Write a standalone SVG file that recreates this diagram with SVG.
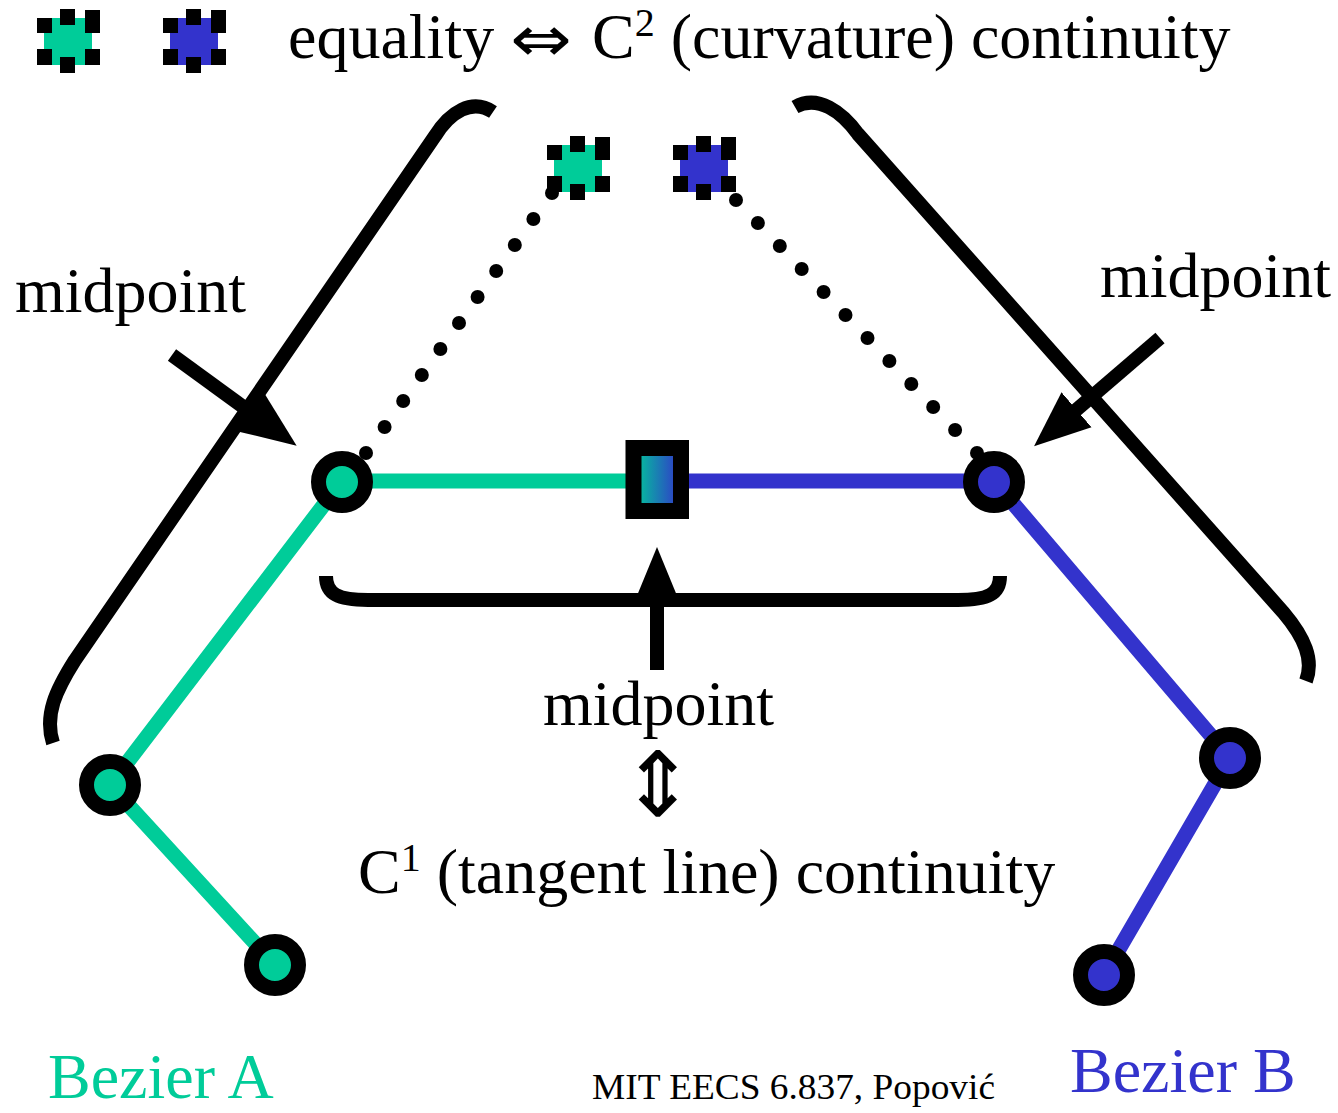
<svg xmlns="http://www.w3.org/2000/svg" width="1338" height="1113" viewBox="0 0 1338 1113">
<style>
text{font-family:"Liberation Serif","Times New Roman",serif;font-size:64px;fill:#000}
.sym{font-family:"DejaVu Sans","DejaVu Serif",sans-serif}
.g{stroke:#00CC99;stroke-width:15;fill:none}
.b{stroke:#3333CC;stroke-width:15;fill:none}
.brace{stroke:#000;stroke-width:14;fill:none;stroke-linecap:butt}
.arrow{stroke:#000;stroke-width:14;fill:none}
.dots circle{fill:#000}
.node{stroke:#000;stroke-width:15}
.gn{fill:#00CC99}
.bn{fill:#3333CC}
</style>
<defs>
<marker id="ah" markerUnits="userSpaceOnUse" markerWidth="60" markerHeight="50" viewBox="0 -25 60 50" refX="2" refY="0" orient="auto">
<path d="M0,-23 L56,0 L0,23 Z" fill="#000"/>
</marker>
<linearGradient id="grad" x1="0" y1="0" x2="1" y2="0">
<stop offset="0" stop-color="#00CC99"/>
<stop offset="1" stop-color="#3333CC"/>
</linearGradient>
<g id="dotsq">
<rect x="37" y="18" width="15" height="15"/>
<rect x="60" y="9" width="15" height="16"/>
<rect x="85" y="10" width="15" height="23"/>
<rect x="37" y="49" width="15" height="16"/>
<rect x="60" y="57" width="15" height="16"/>
<rect x="85" y="49" width="15" height="16"/>
</g>
</defs>
<rect width="1338" height="1113" fill="#fff"/>

<g id="legend-green">
<rect x="44" y="18" width="48" height="47" class="gn"/>
<use href="#dotsq"/>
</g>
<g id="legend-blue" transform="translate(126,0)">
<rect x="44" y="18" width="48" height="47" class="bn"/>
<use href="#dotsq"/>
</g>
<g id="title">
<text x="288" y="58">equality</text>
<text class="sym" x="0" y="0" text-anchor="middle" transform="translate(541,61) scale(1.15,1)">⇔</text>
<text x="592" y="58">C<tspan font-size="40" dy="-22">2</tspan><tspan dy="22"> (curvature) continuity</tspan></text>
</g>

<g id="connectors">
<polyline class="g" points="275,965 110,785 342,481 633,481"/>
<polyline class="b" points="689,481 994,481 1230,758 1104,975"/>
<path class="brace" d="M493,112 C472,98 450,112 435,136 L75,660 C56,690 44,715 53,743"/>
<path class="brace" d="M795,107 C818,94 842,112 858,134 L1283,612 C1305,638 1314,660 1306,681"/>
<path class="brace" d="M326,576 C326,594 338,600 368,600 L958,600 C988,600 1000,594 1000,576"/>
<g class="dots">
<circle cx="552" cy="193" r="7"/><circle cx="533.4" cy="219" r="7"/><circle cx="514.8" cy="245" r="7"/><circle cx="496.2" cy="271" r="7"/><circle cx="477.6" cy="297" r="7"/><circle cx="459" cy="323" r="7"/><circle cx="440.4" cy="349" r="7"/><circle cx="421.8" cy="375" r="7"/><circle cx="403.2" cy="401" r="7"/><circle cx="384.6" cy="427" r="7"/><circle cx="366" cy="453" r="7"/>
</g>
<g class="dots">
<circle cx="736" cy="200" r="7"/><circle cx="757.9" cy="223" r="7"/><circle cx="779.8" cy="246" r="7"/><circle cx="801.7" cy="269" r="7"/><circle cx="823.6" cy="292" r="7"/><circle cx="845.5" cy="315" r="7"/><circle cx="867.5" cy="338" r="7"/><circle cx="889.4" cy="361" r="7"/><circle cx="911.3" cy="384" r="7"/><circle cx="933.2" cy="407" r="7"/><circle cx="955.1" cy="430" r="7"/><circle cx="977" cy="453" r="7"/>
</g>
<line class="arrow" x1="172" y1="355" x2="253" y2="414" marker-end="url(#ah)"/>
<line class="arrow" x1="1160" y1="338" x2="1075" y2="411" marker-end="url(#ah)"/>
<line class="arrow" x1="657" y1="670" x2="657" y2="601" marker-end="url(#ah)"/>
</g>

<g id="top-green" transform="translate(510,127)">
<rect x="44" y="18" width="48" height="47" class="gn"/>
<use href="#dotsq"/>
</g>
<g id="top-blue" transform="translate(636,127)">
<rect x="44" y="18" width="48" height="47" class="bn"/>
<use href="#dotsq"/>
</g>

<g id="nodeA1"><circle class="node gn" cx="110" cy="785" r="23.5"/></g>
<g id="nodeA0"><circle class="node gn" cx="275" cy="965" r="23.5"/></g>
<g id="nodeA2"><circle class="node gn" cx="342" cy="482" r="23.5"/></g>
<g id="nodeB1"><circle class="node bn" cx="994" cy="482" r="23.5"/></g>
<g id="nodeB2"><circle class="node bn" cx="1230" cy="758" r="23.5"/></g>
<g id="nodeB3"><circle class="node bn" cx="1104" cy="975" r="23.5"/></g>
<g id="joint">
<rect x="633.5" y="448" width="47.5" height="63" fill="url(#grad)" stroke="#000" stroke-width="16"/>
</g>

<g id="labels">
<text x="15" y="312">midpoint</text>
<text x="1100" y="297">midpoint</text>
<text x="543" y="725">midpoint</text>
<text class="sym" x="658" y="816" text-anchor="middle" style="font-size:90px">⇕</text>
<text x="358" y="893">C<tspan font-size="40" dy="-22">1</tspan><tspan dy="22"> (tangent line) continuity</tspan></text>
<text x="48" y="1098" style="fill:#00CC99">Bezier A</text>
<text x="1070" y="1092" style="fill:#3333CC">Bezier B</text>
<text x="592" y="1099" style="font-size:35px" textLength="403" lengthAdjust="spacingAndGlyphs">MIT EECS 6.837, Popović</text>
</g>
</svg>
